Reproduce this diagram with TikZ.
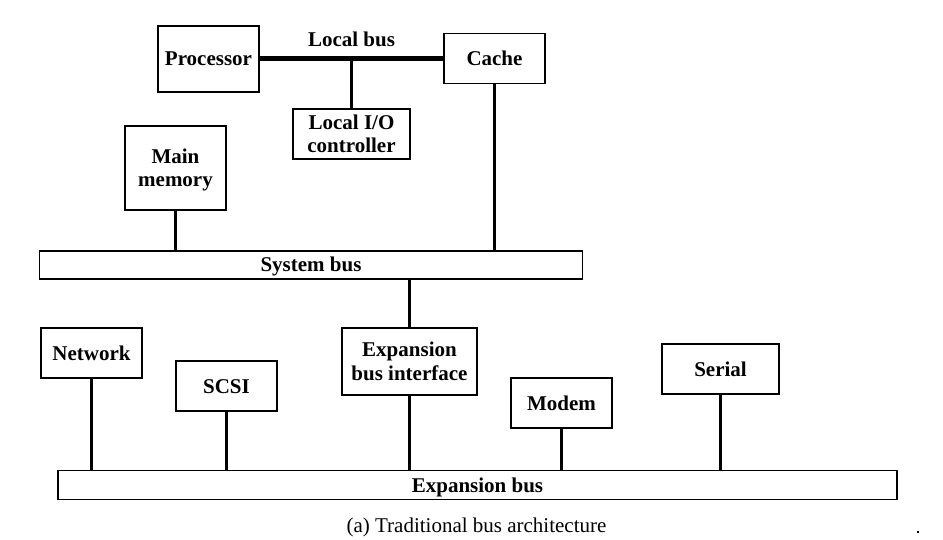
\documentclass[tikz,border=0pt]{standalone}
\usepackage{fontspec}
\setmainfont{Liberation Serif}
\begin{document}
\begin{tikzpicture}[x=1pt,y=-1pt,
  box/.style={draw=black,line width=1.3pt,inner sep=0pt,align=center,
    text height=14pt,text depth=0pt,
    font=\fontsize{21}{23.8}\selectfont\bfseries},
  twoline/.style={text height=37.8pt},
  conn/.style={line width=2.6pt},
  lbus/.style={line width=5pt},
  lbl/.style={inner sep=0pt,anchor=base,font=\fontsize{21}{24}\selectfont\bfseries}]
\useasboundingbox (0,0) rectangle (943,540);
% top level
\node[box,minimum width=101pt,minimum height=66pt] (proc) at (208.5,59) {Processor};
\node[box,minimum width=101pt,minimum height=50pt] (cache) at (494.5,58.5) {Cache};
\node[box,twoline,minimum width=117pt,minimum height=50pt] (lio) at (351.5,134) {Local I/O\\controller};
\node[box,twoline,minimum width=101pt,minimum height=84pt] (mem) at (175.5,168) {Main\\memory};
\node[box,minimum width=543pt,minimum height=28pt] (sys) at (311,265) {System bus};
% expansion level
\node[box,twoline,minimum width=135pt,minimum height=67pt] (ebi) at (409.5,361.5) {Expansion\\bus interface};
\node[box,minimum width=101pt,minimum height=50pt] (net) at (91.5,353) {Network};
\node[box,minimum width=101pt,minimum height=50pt] (scsi) at (226.5,386) {SCSI};
\node[box,minimum width=101pt,minimum height=50pt] (modem) at (561.5,403) {Modem};
\node[box,minimum width=117pt,minimum height=50pt] (serial) at (720.5,369) {Serial};
\node[box,minimum width=839pt,minimum height=29pt] (exp) at (477.5,485) {Expansion bus};
% local bus
\draw[lbus] (proc.east |- cache.west) -- (cache.west);
\coordinate (lbmid) at (lio.north |- cache.west);
\node[lbl] (lbtext) at (351.5,46.5) {Local bus};
\draw[conn] (lbmid) -- (lio.north);
% system bus connections
\draw[conn] (mem.south) -- (mem.south |- sys.north);
\draw[conn] (cache.south) -- (cache.south |- sys.north);
\draw[conn] (sys.south -| ebi.north) -- (ebi.north);
% expansion bus connections
\draw[conn] (ebi.south) -- (ebi.south |- exp.north);
\draw[conn] (net.south) -- (net.south |- exp.north);
\draw[conn] (scsi.south) -- (scsi.south |- exp.north);
\draw[conn] (modem.south) -- (modem.south |- exp.north);
\draw[conn] (serial.south) -- (serial.south |- exp.north);
% caption
\node[inner sep=0pt,anchor=base,font=\fontsize{21}{24}\selectfont] (cap) at (476.5,532.5) {(a) Traditional bus architecture};
\fill (917,531) rectangle (919,532.5);
\end{tikzpicture}
\end{document}
